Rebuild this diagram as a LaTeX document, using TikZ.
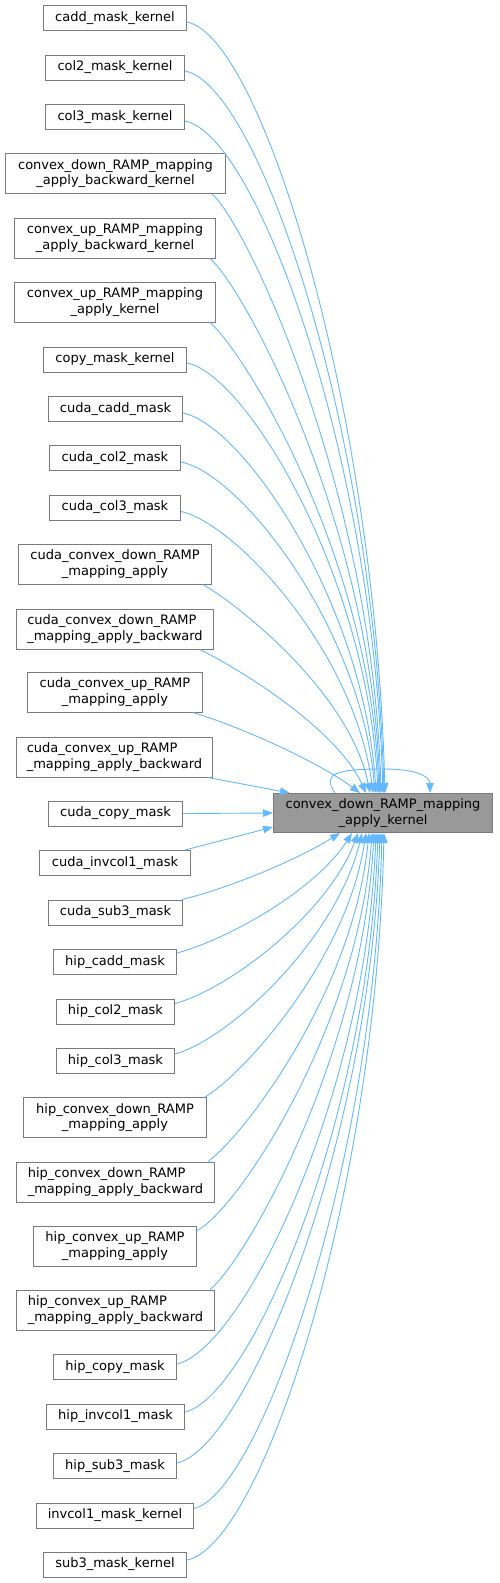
\documentclass[tikz,border=0pt]{standalone}
\usepackage{fontspec}
\setmainfont{DejaVu Sans}
\usetikzlibrary{arrows.meta,calc}
\definecolor{edgeblue}{HTML}{63B8FF}
\definecolor{boxgray}{HTML}{7A7A7A}
\definecolor{mainfill}{HTML}{999999}
\begin{document}
\begin{tikzpicture}[x=1pt,y=-1pt,
  box/.style={draw=boxgray, line width=1pt, inner sep=0pt, minimum height=25pt,
    font=\fontsize{13}{15.5}\selectfont, align=center},
  dbox/.style={box, minimum height=40pt},
  lbox/.style={dbox, align=left},
  edge/.style={draw=edgeblue, line width=0.9pt, -{Triangle[length=10pt,width=7.5pt]}}]
\useasboundingbox (0,0) rectangle (499,1583);
% main
\node[box, fill=mainfill, minimum width=219pt, minimum height=39pt] (main) at (383,813)
  {convex\_down\_RAMP\_mapping\\\_apply\_kernel};
% sources
\node[box, minimum width=143pt] (n1) at (115,18) {cadd\_mask\_kernel};
\node[box, minimum width=139pt] (n2) at (115,67.5) {col2\_mask\_kernel};
\node[box, minimum width=139pt] (n3) at (115,117) {col3\_mask\_kernel};
\node[dbox, minimum width=220pt] (n4) at (115.5,173.5) {convex\_down\_RAMP\_mapping\\\_apply\_backward\_kernel};
\node[dbox, minimum width=201pt] (n5) at (115,238) {convex\_up\_RAMP\_mapping\\\_apply\_backward\_kernel};
\node[dbox, minimum width=201pt] (n6) at (115,302) {convex\_up\_RAMP\_mapping\\\_apply\_kernel};
\node[box, minimum width=143pt] (n7) at (115,359.5) {copy\_mask\_kernel};
\node[box, minimum width=134pt] (n8) at (115.5,409) {cuda\_cadd\_mask};
\node[box, minimum width=131pt] (n9) at (115,458) {cuda\_col2\_mask};
\node[box, minimum width=131pt] (n10) at (115,507.5) {cuda\_col3\_mask};
\node[dbox, minimum width=193pt] (n11) at (115,564) {cuda\_convex\_down\_RAMP\\\_mapping\_apply};
\node[lbox, minimum width=197pt] (n12) at (115,629) {cuda\_convex\_down\_RAMP\\\_mapping\_apply\_backward};
\node[dbox, minimum width=175pt] (n13) at (115,692) {cuda\_convex\_up\_RAMP\\\_mapping\_apply};
\node[lbox, minimum width=196pt] (n14) at (114.5,757) {cuda\_convex\_up\_RAMP\\\_mapping\_apply\_backward};
\node[box, minimum width=134pt] (n15) at (115.5,813.5) {cuda\_copy\_mask};
\node[box, minimum width=151pt] (n16) at (115,863) {cuda\_invcol1\_mask};
\node[box, minimum width=134pt] (n17) at (115.5,912.5) {cuda\_sub3\_mask};
\node[box, minimum width=123pt] (n18) at (115,962) {hip\_cadd\_mask};
\node[box, minimum width=118pt] (n19) at (115.5,1011.5) {hip\_col2\_mask};
\node[box, minimum width=118pt] (n20) at (115.5,1061) {hip\_col3\_mask};
\node[dbox, minimum width=183pt] (n21) at (115,1117.5) {hip\_convex\_down\_RAMP\\\_mapping\_apply};
\node[lbox, minimum width=198pt] (n22) at (115.5,1182) {hip\_convex\_down\_RAMP\\\_mapping\_apply\_backward};
\node[dbox, minimum width=163pt] (n23) at (115,1246) {hip\_convex\_up\_RAMP\\\_mapping\_apply};
\node[lbox, minimum width=198pt] (n24) at (115.5,1310) {hip\_convex\_up\_RAMP\\\_mapping\_apply\_backward};
\node[box, minimum width=123pt] (n25) at (115,1367) {hip\_copy\_mask};
\node[box, minimum width=138pt] (n26) at (115.5,1416.5) {hip\_invcol1\_mask};
\node[box, minimum width=123pt] (n27) at (115,1466) {hip\_sub3\_mask};
\node[box, minimum width=157pt] (n28) at (115,1515.5) {invcol1\_mask\_kernel};
\node[box, minimum width=143pt] (n29) at (115,1564.5) {sub3\_mask\_kernel};
% edges to top
\draw[edge] ($(n1.east)+(0,4)$) .. controls +(75,15) and +(-10,-385) .. ($(main.north west)+(112,0)$);
\draw[edge] ($(n2.east)+(0,3.5)$) .. controls +(75,15) and +(-10,-361) .. ($(main.north west)+(111,0)$);
\draw[edge] ($(n3.east)+(0,4)$) .. controls +(72,14) and +(-10,-336) .. ($(main.north west)+(110,0)$);
\draw[edge] ($(n4.south east)+(-14,0)$) .. controls +(35,30) and +(-8,-300) .. ($(main.north west)+(108,0)$);
\draw[edge] ($(n5.south east)+(-6,0)$) .. controls +(35,30) and +(-8,-267) .. ($(main.north west)+(107,0)$);
\draw[edge] ($(n6.south east)+(-6,0)$) .. controls +(35,30) and +(-8,-235) .. ($(main.north west)+(106,0)$);
\draw[edge] ($(n7.east)+(0,3.5)$) .. controls +(60,12) and +(-10,-215) .. ($(main.north west)+(105,0)$);
\draw[edge] ($(n8.east)+(0,4)$) .. controls +(60,12) and +(-12,-190) .. ($(main.north west)+(103,0)$);
\draw[edge] ($(n9.east)+(0,4)$) .. controls +(60,12) and +(-14,-165) .. ($(main.north west)+(102,0)$);
\draw[edge] ($(n10.east)+(0,4)$) .. controls +(55,12) and +(-18,-140) .. ($(main.north west)+(100,0)$);
\draw[edge] ($(n11.south east)+(-9,0)$) .. controls +(35,20) and +(-20,-100) .. ($(main.north west)+(97,0)$);
\draw[edge] ($(n12.south east)+(-14,0)$) .. controls +(40,20) and +(-30,-65) .. ($(main.north west)+(93,0)$);
\draw[edge] ($(n13.south east)+(-10,0)$) .. controls +(50,15) and +(-40,-30) .. ($(main.north west)+(87,0)$);
\draw[edge] ($(n14.south east)+(-5,0)$) -- ($(main.north west)+(17,0)$);
\draw[edge] (n15.east) -- (main.west);
\draw[edge] ($(n16.north east)+(-6,0)$) -- ($(main.south west)+(0,-6)$);
% edges to bottom
\draw[edge] ($(n17.north east)+(-1,0)$) .. controls +(50,-12) and +(-40,25) .. ($(main.south west)+(67,0)$);
\draw[edge] ($(n18.east)+(0,-9)$) .. controls +(55,-15) and +(-35,55) .. ($(main.south west)+(79,0)$);
\draw[edge] ($(n19.east)+(0,-8)$) .. controls +(55,-15) and +(-30,80) .. ($(main.south west)+(85,0)$);
\draw[edge] ($(n20.east)+(0,-7)$) .. controls +(55,-15) and +(-25,105) .. ($(main.south west)+(89,0)$);
\draw[edge] ($(n21.north east)+(-2,0)$) .. controls +(35,-20) and +(-20,130) .. ($(main.south west)+(93,0)$);
\draw[edge] ($(n22.north east)+(-7,0)$) .. controls +(35,-25) and +(-16,160) .. ($(main.south west)+(96,0)$);
\draw[edge] ($(n23.north east)+(0,5)$) .. controls +(40,-20) and +(-14,195) .. ($(main.south west)+(99,0)$);
\draw[edge] ($(n24.north east)+(-5,0)$) .. controls +(35,-28) and +(-12,225) .. ($(main.south west)+(101,0)$);
\draw[edge] ($(n25.east)+(0,-3)$) .. controls +(65,-15) and +(-10,265) .. ($(main.south west)+(103,0)$);
\draw[edge] ($(n26.east)+(0,-4.5)$) .. controls +(65,-15) and +(-10,290) .. ($(main.south west)+(105,0)$);
\draw[edge] ($(n27.east)+(0,-3)$) .. controls +(68,-15) and +(-10,315) .. ($(main.south west)+(107,0)$);
\draw[edge] ($(n28.east)+(0,-7)$) .. controls +(65,-15) and +(-8,337) .. ($(main.south west)+(109,0)$);
\draw[edge] ($(n29.east)+(0,-4.5)$) .. controls +(75,-15) and +(-8,363) .. ($(main.south west)+(111,0)$);
% self loop
\coordinate (loopL) at ($(main.north west)+(62,0)$);
\coordinate (loopT) at ($(main.north west)+(110,-24)$);
\draw[edge] (loopL) .. controls +(-14,-20) and +(-45,0) .. (loopT) .. controls +(40,0) and +(0,-14) .. ($(main.north west)+(157,0)$);
\end{tikzpicture}
\end{document}
